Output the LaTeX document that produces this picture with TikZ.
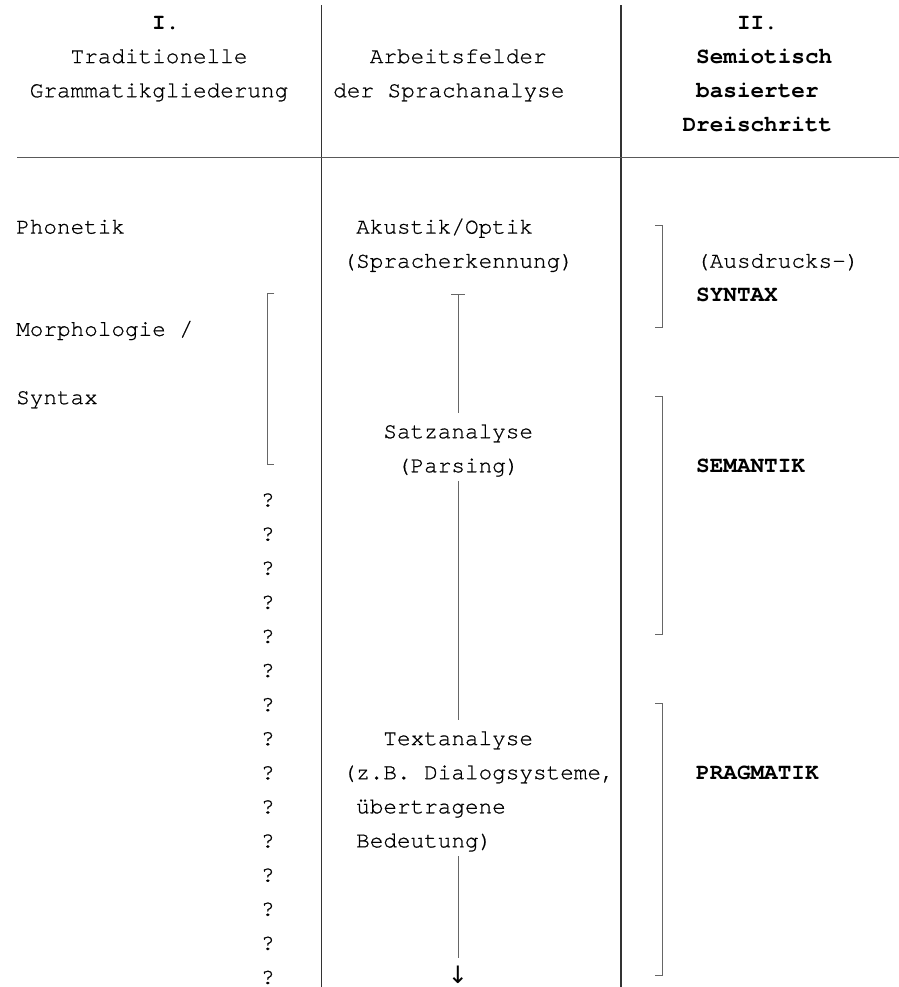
\documentclass[tikz,border=0pt]{standalone}
\usepackage{fontspec}
\setmainfont{TeX Gyre Cursor}[UprightFeatures={FakeBold=0.7}]
\newfontfamily\arrowfont{DejaVu Sans}
\usetikzlibrary{arrows.meta}
\begin{document}
\begin{tikzpicture}[x=1bp,y=-1bp,
  txt/.style={anchor=base west,inner sep=0pt,font=\fontsize{22.67bp}{34bp}\selectfont},
  hd/.style={anchor=base west,inner sep=0pt,font=\fontsize{22.67bp}{34bp}\selectfont\bfseries},
  rule/.style={draw=black!80,line width=1.3bp},
  hrule/.style={draw=black!65,line width=1bp},
  brk/.style={draw=black!60,line width=1bp},
  flow/.style={draw=black!60,line width=1bp}]
\useasboundingbox (0,0) rectangle (899,987);

% column dividers and header rule
\coordinate (d1t) at (321.5,5);   \coordinate (d1b) at (321.5,987);
\coordinate (d2t) at (621,5);     \coordinate (d2b) at (621,987);
\coordinate (hl)  at (17,157.4);  \coordinate (hr)  at (899,157.4);
\draw[rule] (d1t) -- (d1b);
\draw[rule] (d2t) -- (d2b);
\draw[hrule] (hl) -- (hr);

% header, column I
\node[hd]  (h1a) at (152,29)    {I.};
\node[txt] (h1b) at (70.4,63.1) {Traditionelle};
\node[txt] (h1c) at (29.6,97.2) {Grammatikgliederung};
% header, middle column
\node[txt] (h2a) at (369.6,63.1) {Arbeitsfelder};
\node[txt] (h2b) at (333,97.2)   {der Sprachanalyse};
% header, column II
\node[hd] (h3a) at (736.8,29)    {II.};
\node[hd] (h3b) at (696,63.1)    {Semiotisch};
\node[hd] (h3c) at (696,97.2)    {basierter};
\node[hd] (h3d) at (682.4,131.3) {Dreischritt};

% column I
\node[txt] (pho) at (16,233.6) {Phonetik};
\node[txt] (mor) at (16,335.9) {Morphologie /};
\node[txt] (syn) at (16,404.1) {Syntax};
\foreach \k in {14,...,28}
  \node[txt,name=q\k] at (260.8,{29+34.1*\k}) {?};
\coordinate (lbt) at (267.6,293.8);
\coordinate (lbb) at (267.6,464.3);
\draw[brk] (lbt) ++(6.8,0) -- (lbt) -- (lbb) -- ++(6.8,0);

% middle column
\node[txt] (aku) at (356,233.6)   {Akustik/Optik};
\node[txt] (spr) at (342.4,267.7) {(Spracherkennung)};
\node[txt] (sat) at (383.2,438.2) {Satzanalyse};
\node[txt] (par) at (396.8,472.3) {(Parsing)};
\node[txt] (tex) at (383.2,745.1) {Textanalyse};
\node[txt] (zbd) at (342.4,779.2) {(z.B. Dialogsysteme,};
\node[txt] (ueb) at (356,813.3)   {übertragene};
\node[txt] (bed) at (356,847.4)   {Bedeutung)};
\node[anchor=base,inner sep=0pt,font=\arrowfont\fontsize{24bp}{24bp}\selectfont] (arr) at (458,983) {↓};

\coordinate (f1s) at (458,293.8); \coordinate (f1e) at (458,412.7);
\coordinate (f2s) at (458,480.9); \coordinate (f2e) at (458,719.6);
\coordinate (f3s) at (458,856.0); \coordinate (f3e) at (458,958.3);
\draw[flow,{Bar[width=13.6bp]}-] (f1s) -- (f1e);
\draw[flow] (f2s) -- (f2e);
\draw[flow] (f3s) -- (f3e);

% column II
\node[txt] (aus) at (696,267.7) {(Ausdrucks-)};
\node[hd]  (stx) at (696,301.8) {SYNTAX};
\node[hd]  (sem) at (696,472.3) {SEMANTIK};
\node[hd]  (pra) at (696,779.2) {PRAGMATIK};

\coordinate (r1t) at (662,225.6); \coordinate (r1b) at (662,327.9);
\coordinate (r2t) at (662,396.1); \coordinate (r2b) at (662,634.8);
\coordinate (r3t) at (662,703.0); \coordinate (r3b) at (662,975.8);
\draw[brk] (r1t) ++(-6.8,0) -- (r1t) -- (r1b) -- ++(-6.8,0);
\draw[brk] (r2t) ++(-6.8,0) -- (r2t) -- (r2b) -- ++(-6.8,0);
\draw[brk] (r3t) ++(-6.8,0) -- (r3t) -- (r3b) -- ++(-6.8,0);
\end{tikzpicture}
\end{document}
